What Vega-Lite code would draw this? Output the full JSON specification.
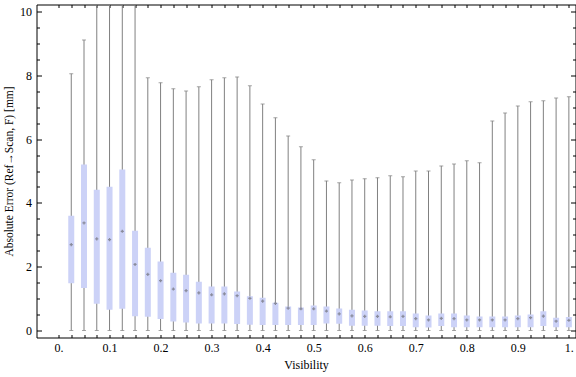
{
  "$schema": "https://vega.github.io/schema/vega-lite/v6.json",
  "autosize": "none",
  "width": 539,
  "height": 333,
  "padding": {"left": 36.5, "top": 4.5, "right": 0.5, "bottom": 39.5},
  "background": "white",
  "config": {
    "view": {"stroke": "#000000", "strokeWidth": 1},
    "axis": {
      "labelFont": "Liberation Serif",
      "titleFont": "Liberation Serif",
      "labelFontSize": 12,
      "titleFontSize": 12,
      "titleFontWeight": "normal",
      "labelColor": "#000000",
      "titleColor": "#000000",
      "tickColor": "#000000",
      "tickWidth": 1,
      "domain": false,
      "grid": false,
      "labelOverlap": false,
      "labelFlush": false
    }
  },
  "data": {
    "values": [
      {"v": 0.025, "lo": 0, "q1": 1.48, "med": 2.69, "q3": 3.6, "hi": 8.05},
      {"v": 0.05, "lo": 0, "q1": 1.33, "med": 3.37, "q3": 5.2, "hi": 9.11},
      {"v": 0.075, "lo": 0, "q1": 0.84, "med": 2.87, "q3": 4.41, "hi": 12},
      {"v": 0.1, "lo": 0, "q1": 0.65, "med": 2.85, "q3": 4.51, "hi": 12},
      {"v": 0.125, "lo": 0, "q1": 0.68, "med": 3.11, "q3": 5.05, "hi": 12},
      {"v": 0.15, "lo": 0, "q1": 0.45, "med": 2.07, "q3": 3.13, "hi": 12},
      {"v": 0.175, "lo": 0, "q1": 0.43, "med": 1.76, "q3": 2.59, "hi": 7.92},
      {"v": 0.2, "lo": 0, "q1": 0.36, "med": 1.56, "q3": 2.16, "hi": 7.77},
      {"v": 0.225, "lo": 0, "q1": 0.28, "med": 1.3, "q3": 1.81, "hi": 7.58},
      {"v": 0.25, "lo": 0, "q1": 0.25, "med": 1.25, "q3": 1.75, "hi": 7.51},
      {"v": 0.275, "lo": 0, "q1": 0.22, "med": 1.18, "q3": 1.53, "hi": 7.64},
      {"v": 0.3, "lo": 0, "q1": 0.22, "med": 1.12, "q3": 1.38, "hi": 7.86},
      {"v": 0.325, "lo": 0, "q1": 0.22, "med": 1.15, "q3": 1.38, "hi": 7.92},
      {"v": 0.35, "lo": 0, "q1": 0.2, "med": 1.09, "q3": 1.22, "hi": 7.95},
      {"v": 0.375, "lo": 0, "q1": 0.18, "med": 1.01, "q3": 1.07, "hi": 7.67},
      {"v": 0.4, "lo": 0, "q1": 0.17, "med": 0.92, "q3": 1.03, "hi": 7.1},
      {"v": 0.425, "lo": 0, "q1": 0.17, "med": 0.85, "q3": 0.87, "hi": 6.67},
      {"v": 0.45, "lo": 0, "q1": 0.17, "med": 0.7, "q3": 0.75, "hi": 6.1},
      {"v": 0.475, "lo": 0, "q1": 0.17, "med": 0.68, "q3": 0.72, "hi": 5.76},
      {"v": 0.5, "lo": 0, "q1": 0.17, "med": 0.68, "q3": 0.78, "hi": 5.35},
      {"v": 0.525, "lo": 0, "q1": 0.22, "med": 0.61, "q3": 0.75, "hi": 4.69},
      {"v": 0.55, "lo": 0, "q1": 0.21, "med": 0.52, "q3": 0.69, "hi": 4.63},
      {"v": 0.575, "lo": 0, "q1": 0.15, "med": 0.46, "q3": 0.65, "hi": 4.72},
      {"v": 0.6, "lo": 0, "q1": 0.15, "med": 0.44, "q3": 0.63, "hi": 4.76},
      {"v": 0.625, "lo": 0, "q1": 0.15, "med": 0.44, "q3": 0.6, "hi": 4.79},
      {"v": 0.65, "lo": 0, "q1": 0.14, "med": 0.43, "q3": 0.6, "hi": 4.85},
      {"v": 0.675, "lo": 0, "q1": 0.14, "med": 0.44, "q3": 0.6, "hi": 4.82},
      {"v": 0.7, "lo": 0, "q1": 0.1, "med": 0.37, "q3": 0.53, "hi": 5.0},
      {"v": 0.725, "lo": 0, "q1": 0.09, "med": 0.33, "q3": 0.47, "hi": 5.0},
      {"v": 0.75, "lo": 0, "q1": 0.14, "med": 0.38, "q3": 0.53, "hi": 5.16},
      {"v": 0.775, "lo": 0, "q1": 0.1, "med": 0.37, "q3": 0.53, "hi": 5.22},
      {"v": 0.8, "lo": 0, "q1": 0.1, "med": 0.33, "q3": 0.47, "hi": 5.32},
      {"v": 0.825, "lo": 0, "q1": 0.1, "med": 0.33, "q3": 0.44, "hi": 5.26},
      {"v": 0.85, "lo": 0, "q1": 0.1, "med": 0.33, "q3": 0.44, "hi": 6.57},
      {"v": 0.875, "lo": 0, "q1": 0.1, "med": 0.33, "q3": 0.44, "hi": 6.82},
      {"v": 0.9, "lo": 0, "q1": 0.1, "med": 0.37, "q3": 0.47, "hi": 7.04},
      {"v": 0.925, "lo": 0, "q1": 0.1, "med": 0.4, "q3": 0.5, "hi": 7.17},
      {"v": 0.95, "lo": 0, "q1": 0.14, "med": 0.45, "q3": 0.6, "hi": 7.2},
      {"v": 0.975, "lo": 0, "q1": 0.1, "med": 0.29, "q3": 0.4, "hi": 7.29},
      {"v": 1.0, "lo": 0, "q1": 0.1, "med": 0.32, "q3": 0.42, "hi": 7.33}
    ]
  },
  "resolve": {"axis": {"x": "independent", "y": "independent"}},
  "layer": [
    {
      "mark": {"type": "rule", "color": "#808080", "strokeWidth": 1, "clip": true},
      "encoding": {
        "x": {
          "field": "v", "type": "quantitative",
          "scale": {"domain": [-0.0333, 1.0032], "nice": false, "zero": false},
          "axis": {
            "orient": "bottom",
            "title": "Visibility",
            "values": [0, 0.025, 0.05, 0.075, 0.1, 0.125, 0.15, 0.175, 0.2, 0.225, 0.25, 0.275, 0.3, 0.325, 0.35, 0.375, 0.4, 0.425, 0.45, 0.475, 0.5, 0.525, 0.55, 0.575, 0.6, 0.625, 0.65, 0.675, 0.7, 0.725, 0.75, 0.775, 0.8, 0.825, 0.85, 0.875, 0.9, 0.925, 0.95, 0.975, 1],
            "labelExpr": "indexof(['0','0.1','0.2','0.3','0.4','0.5','0.6','0.7','0.8','0.9','1'], format(datum.value, '.3~f')) >= 0 ? (datum.value == 0 ? '0.' : (datum.value == 1 ? '1.' : format(datum.value, '.1f'))) : ''",
            "offset": -3,
            "tickSize": 3,
            "labelPadding": 5,
            "titlePadding": 6
          }
        },
        "y": {
          "field": "lo", "type": "quantitative",
          "scale": {"domain": [-0.22, 10.22], "nice": false, "zero": false},
          "axis": {
            "orient": "left",
            "title": "Absolute Error (Ref→Scan, F) [mm]",
            "titleFontSize": 11.5,
            "values": [0, 2, 4, 6, 8, 10],
            "format": "d",
            "offset": -5,
            "tickSize": 5,
            "labelPadding": 5,
            "titlePadding": 5
          }
        },
        "y2": {"field": "hi"}
      }
    },
    {
      "mark": {"type": "tick", "orient": "horizontal", "color": "#808080", "size": 4, "thickness": 1, "clip": true},
      "encoding": {
        "x": {
          "field": "v", "type": "quantitative",
          "axis": {
            "orient": "top", "title": null, "labels": false,
            "values": [0, 0.025, 0.05, 0.075, 0.1, 0.125, 0.15, 0.175, 0.2, 0.225, 0.25, 0.275, 0.3, 0.325, 0.35, 0.375, 0.4, 0.425, 0.45, 0.475, 0.5, 0.525, 0.55, 0.575, 0.6, 0.625, 0.65, 0.675, 0.7, 0.725, 0.75, 0.775, 0.8, 0.825, 0.85, 0.875, 0.9, 0.925, 0.95, 0.975, 1],
            "offset": -3,
            "tickSize": 3
          }
        },
        "y": {
          "field": "hi", "type": "quantitative",
          "axis": {
            "orient": "right", "title": null, "labels": false,
            "values": [0, 2, 4, 6, 8, 10],
            "offset": -5,
            "tickSize": 5
          }
        }
      }
    },
    {
      "mark": {"type": "tick", "orient": "horizontal", "color": "#808080", "size": 4, "thickness": 1, "clip": true},
      "encoding": {
        "x": {"field": "v", "type": "quantitative", "axis": null},
        "y": {
          "field": "lo", "type": "quantitative",
          "axis": {
            "orient": "left", "title": null, "labels": false,
            "values": [0.5, 1, 1.5, 2.5, 3, 3.5, 4.5, 5, 5.5, 6.5, 7, 7.5, 8.5, 9, 9.5],
            "offset": -3,
            "tickSize": 3
          }
        }
      }
    },
    {
      "mark": {"type": "bar", "color": "#ccd2f7", "width": 6, "clip": true},
      "encoding": {
        "x": {"field": "v", "type": "quantitative", "axis": null},
        "y": {
          "field": "q1", "type": "quantitative",
          "axis": {
            "orient": "right", "title": null, "labels": false,
            "values": [0.5, 1, 1.5, 2.5, 3, 3.5, 4.5, 5, 5.5, 6.5, 7, 7.5, 8.5, 9, 9.5],
            "offset": -3,
            "tickSize": 3
          }
        },
        "y2": {"field": "q3"}
      }
    },
    {
      "mark": {"type": "point", "shape": "cross", "filled": true, "size": 10, "color": "#8a8c9c", "opacity": 1, "clip": true},
      "encoding": {
        "x": {"field": "v", "type": "quantitative", "axis": null},
        "y": {"field": "med", "type": "quantitative", "axis": null}
      }
    }
  ]
}
